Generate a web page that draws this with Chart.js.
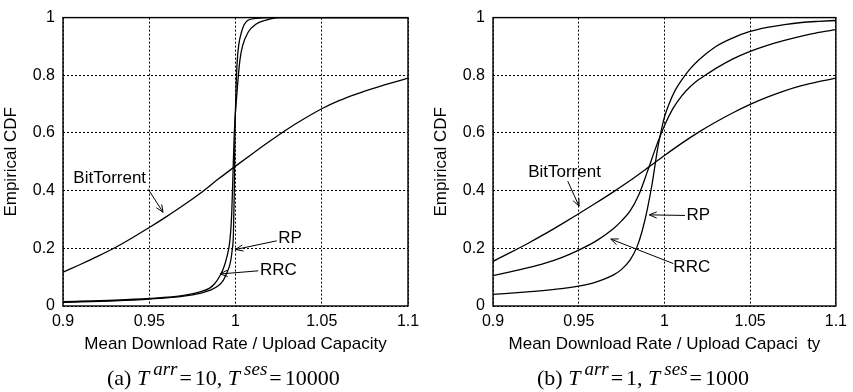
<!DOCTYPE html>
<html>
<head>
<meta charset="utf-8">
<script src="https://cdn.jsdelivr.net/npm/chart.js@4.4.0/dist/chart.umd.min.js"></script>
<style>
  body { margin: 0; background: #fff; }
  canvas { position: absolute; top: 0; }
  #chartA { left: 0; }
  #chartB { left: 430px; }
</style>
</head>
<body>
<canvas id="chartA" width="430" height="392"></canvas>
<canvas id="chartB" width="423" height="392"></canvas>
<script>
// axis ticks (same on both panels)
const xTicks = [0.9, 0.95, 1, 1.05, 1.1];
const xTickLabels = ['0.9', '0.95', '1', '1.05', '1.1'];
const yTicks = [0, 0.2, 0.4, 0.6, 0.8, 1];
const yTickLabels = ['0', '0.2', '0.4', '0.6', '0.8', '1'];

// (a) T_arr = 10, T_ses = 10000
const aBitX = [0.90, 0.91, 0.92, 0.93, 0.94, 0.95, 0.96, 0.97, 0.98, 0.99, 1.00,
               1.01, 1.02, 1.03, 1.04, 1.05, 1.06, 1.07, 1.08, 1.09, 1.10];
const aBitY = [0.117, 0.144, 0.172, 0.202, 0.236, 0.272, 0.310, 0.350, 0.393, 0.440, 0.485,
               0.529, 0.572, 0.613, 0.650, 0.684, 0.712, 0.735, 0.755, 0.773, 0.790];
const aRpX = [0.90, 0.93, 0.95, 0.97, 0.98, 0.985, 0.99, 0.993, 0.995, 0.997, 0.998, 0.9988,
              0.9993, 0.9997, 1.0003, 1.001, 1.002, 1.0035, 1.005, 1.007, 1.012, 1.02, 1.10];
const aRpY = [0.013, 0.018, 0.024, 0.034, 0.045, 0.054, 0.070, 0.090, 0.115, 0.150, 0.190, 0.250,
              0.400, 0.600, 0.750, 0.850, 0.910, 0.950, 0.975, 0.990, 0.997, 1.0, 1.0];
const aRrcX = [0.90, 0.93, 0.95, 0.97, 0.98, 0.985, 0.988, 0.991, 0.993, 0.995, 0.9968, 0.9978,
               0.9985, 0.9993, 1.001, 1.0025, 1.004, 1.0074, 1.012, 1.017, 1.025, 1.10];
const aRrcY = [0.015, 0.020, 0.026, 0.037, 0.050, 0.062, 0.078, 0.105, 0.130, 0.170, 0.230, 0.320,
               0.450, 0.600, 0.750, 0.850, 0.900, 0.950, 0.978, 0.990, 1.0, 1.0];

// (b) T_arr = 1, T_ses = 1000
const bBitX = [0.90, 0.91, 0.92, 0.93, 0.94, 0.95, 0.96, 0.97, 0.98, 0.99, 1.00,
               1.01, 1.02, 1.03, 1.04, 1.05, 1.06, 1.07, 1.08, 1.09, 1.10];
const bBitY = [0.155, 0.185, 0.216, 0.249, 0.284, 0.320, 0.357, 0.395, 0.435, 0.478, 0.522,
               0.564, 0.603, 0.638, 0.670, 0.699, 0.724, 0.746, 0.764, 0.778, 0.790];
const bRpX = [0.90, 0.92, 0.94, 0.95, 0.96, 0.97, 0.975, 0.98, 0.984, 0.987, 0.99, 0.993, 0.996,
              0.998, 1.00, 1.003, 1.006, 1.01, 1.015, 1.02, 1.03, 1.04, 1.05, 1.06, 1.07, 1.08, 1.09, 1.10];
const bRpY = [0.040, 0.049, 0.060, 0.069, 0.083, 0.107, 0.127, 0.160, 0.205, 0.260, 0.335, 0.430, 0.545,
              0.605, 0.655, 0.705, 0.745, 0.783, 0.822, 0.853, 0.900, 0.930, 0.952, 0.966, 0.976, 0.983, 0.987, 0.990];
const bRrcX = [0.90, 0.91, 0.92, 0.93, 0.94, 0.95, 0.96, 0.97, 0.975, 0.98, 0.985, 0.99, 0.995,
               1.00, 1.005, 1.01, 1.015, 1.02, 1.024, 1.03, 1.04, 1.05, 1.06, 1.07, 1.08, 1.09, 1.10];
const bRrcY = [0.105, 0.118, 0.132, 0.148, 0.168, 0.194, 0.225, 0.267, 0.295, 0.330, 0.385, 0.465, 0.550,
               0.625, 0.685, 0.728, 0.760, 0.785, 0.801, 0.824, 0.857, 0.883, 0.904, 0.921, 0.936, 0.949, 0.958];

// labels with arrows, in data units: text start, arrow tail, arrow tip
const aNotes = [
  { text: 'BitTorrent', tx: 0.906, ty: 0.444, fx: 0.9495, fy: 0.404, px: 0.958, py: 0.325 },
  { text: 'RP', tx: 1.0248, ty: 0.235, fx: 1.0239, fy: 0.226, px: 1.0001, py: 0.196 },
  { text: 'RRC', tx: 1.0142, ty: 0.125, fx: 1.0132, fy: 0.122, px: 0.991, py: 0.111 }
];
const bNotes = [
  { text: 'BitTorrent', tx: 0.9205, ty: 0.464, fx: 0.9436, fy: 0.433, px: 0.9502, py: 0.346 },
  { text: 'RP', tx: 1.0129, ty: 0.314, fx: 1.012, fy: 0.314, px: 0.9912, py: 0.316 },
  { text: 'RRC', tx: 1.0052, ty: 0.133, fx: 1.0052, fy: 0.147, px: 0.9687, py: 0.232 }
];

const aCaption = [['(a) ', 'n'], ['T', 'i'], ['arr', 's'], ['=', 'e'], ['10, ', 'n'],
                  ['T', 'i'], ['ses', 's'], ['=', 'e'], ['10000', 'n']];
const bCaption = [['(b) ', 'n'], ['T', 'i'], ['arr', 's'], ['=', 'e'], ['1, ', 'n'],
                  ['T', 'i'], ['ses', 's'], ['=', 'e'], ['1000', 'n']];

const SANS = '"Liberation Sans", Arial, sans-serif';
const SERIF = '"Liberation Serif", "Times New Roman", serif';

const toPts = (xs, ys) => xs.map((x, i) => ({ x: x, y: ys[i] }));

function drawArrow(ctx, x1, y1, x2, y2) {
  const ang = Math.atan2(y2 - y1, x2 - x1);
  const len = 8, spread = 0.4;
  ctx.beginPath();
  ctx.moveTo(x1, y1);
  ctx.lineTo(x2, y2);
  ctx.moveTo(x2 - len * Math.cos(ang - spread), y2 - len * Math.sin(ang - spread));
  ctx.lineTo(x2, y2);
  ctx.lineTo(x2 - len * Math.cos(ang + spread), y2 - len * Math.sin(ang + spread));
  ctx.stroke();
}

const framePlugin = {
  id: 'frame',
  afterDraw(chart, args, opts) {
    const { ctx, chartArea: a, scales } = chart;
    ctx.save();
    ctx.strokeStyle = '#000';
    ctx.lineWidth = 1.4;
    ctx.strokeRect(a.left, a.top, a.right - a.left, a.bottom - a.top);

    // arrows and labels
    ctx.lineWidth = 1;
    ctx.fillStyle = '#000';
    ctx.font = '17px ' + SANS;
    ctx.textBaseline = 'middle';
    ctx.textAlign = 'left';
    opts.notes.forEach(n => {
      const X = v => scales.x.getPixelForValue(v);
      const Y = v => scales.y.getPixelForValue(v);
      ctx.fillText(n.text, X(n.tx), Y(n.ty));
      drawArrow(ctx, X(n.fx), Y(n.fy), X(n.px), Y(n.py));
    });

    // caption under the panel
    let x = a.left + 44;
    const base = 385;
    ctx.textBaseline = 'alphabetic';
    opts.caption.forEach(([t, kind]) => {
      if (kind === 's') {
        ctx.font = 'italic 19px ' + SERIF;
        x += 4;
        ctx.fillText(t, x, base - 10);
        x += ctx.measureText(t).width;
      } else {
        ctx.font = (kind === 'i' ? 'italic ' : '') + '22px ' + SERIF;
        if (kind === 'e') x += 2;
        ctx.fillText(t, x, base);
        x += ctx.measureText(t).width + (kind === 'e' ? 3 : 0);
      }
    });
    ctx.restore();
  }
};

function makeChart(id, padRight, series, notes, caption, xTitle) {
  const line = pts => ({
    data: pts,
    borderColor: '#000',
    borderWidth: 1.3,
    pointRadius: 0,
    fill: false,
    cubicInterpolationMode: 'monotone'
  });
  return new Chart(document.getElementById(id), {
    type: 'line',
    data: { datasets: series.map(line) },
    options: {
      responsive: false,
      animation: false,
      devicePixelRatio: 1,
      layout: { padding: { left: 0, right: padRight, top: 11, bottom: 0 } },
      plugins: {
        legend: { display: false },
        tooltip: { enabled: false },
        frame: { notes: notes, caption: caption }
      },
      scales: {
        x: {
          type: 'linear',
          min: 0.9,
          max: 1.1,
          afterBuildTicks: s => { s.ticks = xTicks.map(v => ({ value: v })); },
          afterFit: s => { s.height = 86; },
          ticks: {
            color: '#000',
            font: { family: SANS, size: 16 },
            padding: 6,
            maxRotation: 0,
            callback: (v, i) => xTickLabels[i]
          },
          grid: { color: '#000', lineWidth: 1, drawTicks: false },
          border: { display: false, dash: [2, 2] },
          title: {
            display: true,
            text: xTitle,
            color: '#000',
            font: { family: SANS, size: 17 },
            padding: { top: 0, bottom: 37 }
          }
        },
        y: {
          min: 0,
          max: 1,
          afterBuildTicks: s => { s.ticks = yTicks.map(v => ({ value: v })); },
          afterFit: s => { s.width = 63; },
          ticks: {
            color: '#000',
            font: { family: SANS, size: 16 },
            padding: 8,
            callback: (v, i) => yTickLabels[i]
          },
          grid: { color: '#000', lineWidth: 1, drawTicks: false },
          border: { display: false, dash: [2, 2] },
          title: {
            display: true,
            text: 'Empirical CDF',
            color: '#000',
            font: { family: SANS, size: 17 },
            padding: { top: 1, bottom: 0 }
          }
        }
      }
    },
    plugins: [framePlugin]
  });
}

makeChart('chartA', 22,
  [toPts(aBitX, aBitY), toPts(aRpX, aRpY), toPts(aRrcX, aRrcY)],
  aNotes, aCaption, 'Mean Download Rate / Upload Capacity');
makeChart('chartB', 14,
  [toPts(bBitX, bBitY), toPts(bRpX, bRpY), toPts(bRrcX, bRrcY)],
  bNotes, bCaption, 'Mean Download Rate / Upload Capaci  ty');
</script>
</body>
</html>
